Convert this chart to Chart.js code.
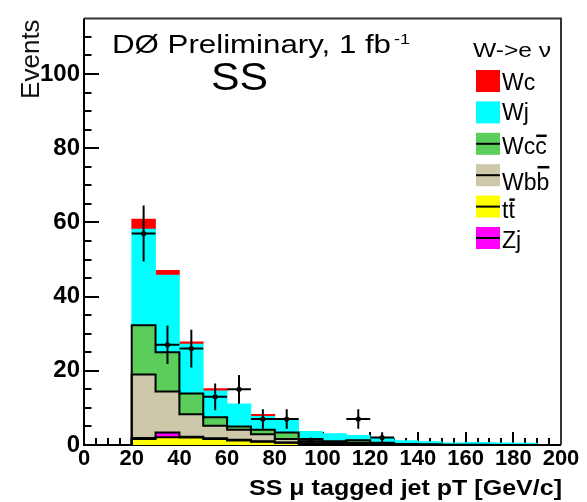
<!DOCTYPE html>
<html>
<head>
<meta charset="utf-8">
<title>SS mu tagged jet pT</title>
<script src="https://cdn.jsdelivr.net/npm/chart.js@4.4.1/dist/chart.umd.min.js"></script>
<style>
  html, body { margin: 0; padding: 0; background: #ffffff; }
  #box { position: relative; width: 587px; height: 502px; }
</style>
</head>
<body>
<div id="box"><canvas id="chart" width="587" height="502"></canvas></div>
<script>
// Lower edges of the 10 GeV/c bins
const binLow = [20, 30, 40, 50, 60, 70, 80, 90, 100, 110, 120, 130, 140, 150, 160, 170, 180, 190];
const binWidth = 10;

// Expected events per bin, one array per process (stacked bottom to top)
const ttbar  = [1.6, 2.1, 2.0, 1.6, 1.2, 0.9, 0.6, 0.3, 0.2, 0.2, 0.1, 0, 0, 0, 0, 0, 0, 0];
const zjets  = [0.3, 1.3, 0.2, 0.2, 0.2, 0.1, 0.1, 0.1, 0.1, 0.1, 0.1, 0.1, 0, 0, 0, 0, 0, 0];
const wbbbar = [17.1, 11.0, 6.1, 3.4, 2.7, 1.9, 0.9, 0.5, 0.3, 0.3, 0.2, 0.1, 0, 0, 0, 0, 0, 0];
const wccbar = [13.3, 10.6, 5.6, 2.3, 0.9, 1.2, 1.8, 0.7, 0.4, 0.7, 0.2, 0.1, 0.2, 0.1, 0.1, 0, 0, 0];
const wjets  = [25.9, 20.8, 13.3, 7.1, 6.1, 3.6, 3.4, 2.1, 2.1, 1.3, 1.3, 0.9, 0.7, 0.5, 0.6, 0.6, 0.5, 0];
const wcharm = [2.7, 1.3, 0.6, 0.6, 0, 0.6, 0, 0, 0, 0, 0, 0, 0, 0, 0, 0, 0, 0];

// Observed events (bin centres)
const dataPt     = [25, 35, 45, 55, 65, 75, 85, 95, 115, 125];
const dataEvents = [57, 27, 26, 13, 15, 7, 7, 1, 7, 2];

// Axis ticks
const xTickValues = [0, 20, 40, 60, 80, 100, 120, 140, 160, 180, 200];
const yTickValues = [0, 20, 40, 60, 80, 100];

// Legend rows, top to bottom
const legendOrder = ['Wc', 'Wj', 'Wcc', 'Wbb', 'tt', 'Zj'];

const FONT = "'Liberation Sans', Arial, Helvetica, sans-serif";

const processes = [
  { name: 'tt',  values: ttbar,  color: '#ffff00', outline: true,  overline: 1, rise: 18, dy: 0 },
  { name: 'Zj',  values: zjets,  color: '#ff00ff', outline: true,  overline: 0, rise: 0,  dy: -1 },
  { name: 'Wbb', values: wbbbar, color: '#cdc8aa', outline: true,  overline: 1, rise: 23, dy: 4 },
  { name: 'Wcc', values: wccbar, color: '#5acd5a', outline: true,  overline: 1, rise: 18, dy: -1 },
  { name: 'Wj',  values: wjets,  color: '#00ffff', outline: false, overline: 0, rise: 0,  dy: -3 },
  { name: 'Wc',  values: wcharm, color: '#ff0000', outline: false, overline: 0, rise: 0,  dy: -2 }
];

// Stacked fills as floating bars, outlines as step lines on the running sums
const barSets = [];
const outlineSets = [];
let base = binLow.map(() => 0);
processes.forEach(p => {
  const top = base.map((b, i) => b + p.values[i]);
  barSets.push({
    type: 'bar',
    label: p.name,
    data: binLow.map((lo, i) => ({ x: lo + binWidth / 2, y: p.values[i] > 0 ? [base[i], top[i]] : null })),
    backgroundColor: p.color,
    borderWidth: 0,
    grouped: false,
    barPercentage: 1,
    categoryPercentage: 1,
    order: 10
  });
  if (p.outline) {
    const pts = [{ x: binLow[0], y: 0 }];
    binLow.forEach((lo, i) => pts.push({ x: lo, y: top[i] }));
    pts.push({ x: binLow[binLow.length - 1] + binWidth, y: 0 });
    outlineSets.push({
      type: 'line',
      data: pts,
      stepped: 'before',
      borderColor: '#000000',
      borderWidth: 2,
      pointRadius: 0,
      fill: false,
      order: 5
    });
  }
  base = top;
});

// Data crosses: vertical sqrt(N) error plus full-bin horizontal bar
const crossPts = [];
dataPt.forEach((x, i) => {
  const n = dataEvents[i];
  const e = Math.sqrt(n);
  crossPts.push({ x: x, y: n - e }, { x: x, y: n + e }, { x: x, y: null });
  crossPts.push({ x: x - binWidth / 2, y: n }, { x: x + binWidth / 2, y: n }, { x: x, y: null });
});
const crossSet = {
  type: 'line',
  data: crossPts,
  borderColor: '#000000',
  borderWidth: 2,
  pointRadius: 0,
  spanGaps: false,
  fill: false,
  order: 2
};
const dotSet = {
  type: 'line',
  data: dataPt.map((x, i) => ({ x: x, y: dataEvents[i] })),
  showLine: false,
  pointRadius: 2.6,
  pointBackgroundColor: '#000000',
  pointBorderWidth: 0,
  order: 1
};

// Draw text stretched horizontally so that it covers a given width
function fitText(ctx, str, x, y, font, width, align) {
  ctx.save();
  ctx.font = font;
  ctx.textBaseline = 'alphabetic';
  ctx.textAlign = align || 'left';
  const sx = width / ctx.measureText(str).width;
  ctx.translate(x, y);
  ctx.scale(sx, 1);
  ctx.fillText(str, 0, 0);
  ctx.restore();
}

const frameAndLabels = {
  id: 'frameAndLabels',
  beforeDatasetsDraw(chart) {
    const { ctx, chartArea: a, scales: { x, y } } = chart;
    ctx.save();
    ctx.lineCap = 'butt';
    // inward ticks
    ctx.strokeStyle = '#000';
    ctx.lineWidth = 2;
    for (let v = 0; v <= 110; v += 5) {
      const py = Math.round(y.getPixelForValue(v));
      const len = v % 20 === 0 ? 15 : 7.5;
      ctx.beginPath(); ctx.moveTo(a.left, py); ctx.lineTo(a.left + len, py); ctx.stroke();
    }
    for (let v = 0; v <= 200; v += 5) {
      const px = Math.round(x.getPixelForValue(v));
      const len = v % 20 === 0 ? 13 : 7;
      ctx.beginPath(); ctx.moveTo(px, a.bottom); ctx.lineTo(px, a.bottom - len); ctx.stroke();
    }
    // frame
    ctx.strokeStyle = '#333';
    ctx.lineWidth = 2;
    ctx.beginPath(); ctx.moveTo(a.left, a.top); ctx.lineTo(a.right, a.top); ctx.lineTo(a.right, a.bottom); ctx.stroke();
    ctx.strokeStyle = '#000';
    ctx.beginPath(); ctx.moveTo(a.left, a.top); ctx.lineTo(a.left, a.bottom); ctx.lineTo(a.right, a.bottom); ctx.stroke();
    ctx.restore();
  },
  afterDraw(chart) {
    const { ctx, chartArea: a } = chart;
    ctx.save();
    ctx.fillStyle = '#000';

    // axis titles
    ctx.save();
    ctx.font = '26px ' + FONT;
    ctx.fillStyle = '#111';
    ctx.textAlign = 'right';
    ctx.textBaseline = 'alphabetic';
    ctx.translate(39, a.top + 1);
    ctx.rotate(-Math.PI / 2);
    ctx.fillText('Events', 0, 0);
    ctx.restore();
    fitText(ctx, 'SS \u03bc tagged jet pT [GeV/c]', a.right + 1, 495, 'bold 22px ' + FONT, 313, 'right');

    // experiment label
    fitText(ctx, 'D\u00d8 Preliminary, 1 fb', 112, 53, '26px ' + FONT, 279, 'left');
    fitText(ctx, '-1', 394, 44, '15px ' + FONT, 16, 'left');
    fitText(ctx, 'SS', 211, 90, '38px ' + FONT, 57, 'left');

    // legend
    fitText(ctx, 'W->e \u03bd', 473, 57, '21px ' + FONT, 78, 'left');
    legendOrder.forEach((name, i) => {
      const p = processes.find(q => q.name === name);
      const top = 70 + i * 31.4;
      ctx.fillStyle = p.color;
      ctx.fillRect(476, top, 24, 22);
      if (p.outline) {
        ctx.strokeStyle = '#000';
        ctx.lineWidth = 2;
        ctx.beginPath(); ctx.moveTo(476, top + 11); ctx.lineTo(500, top + 11); ctx.stroke();
      }
      ctx.fillStyle = '#000';
      const font = '23px ' + FONT;
      const baseY = top + 22 + p.dy;
      ctx.font = font;
      ctx.textAlign = 'left';
      ctx.textBaseline = 'alphabetic';
      ctx.fillText(p.name, 502, baseY);
      if (p.overline > 0) {
        const full = ctx.measureText(p.name).width;
        const head = ctx.measureText(p.name.slice(0, p.name.length - p.overline)).width;
        ctx.strokeStyle = '#000';
        ctx.lineWidth = 2.5;
        ctx.beginPath();
        ctx.moveTo(502 + head + 1, baseY - p.rise);
        ctx.lineTo(502 + full, baseY - p.rise);
        ctx.stroke();
      }
    });
    ctx.restore();
  }
};

new Chart(document.getElementById('chart'), {
  type: 'bar',
  data: { datasets: [...barSets, ...outlineSets, crossSet, dotSet] },
  plugins: [frameAndLabels],
  options: {
    responsive: false,
    animation: false,
    events: [],
    layout: { padding: { top: 6, right: 26, left: 0, bottom: 0 } },
    plugins: { legend: { display: false }, tooltip: { enabled: false } },
    scales: {
      x: {
        type: 'linear',
        min: 0,
        max: 200,
        offset: false,
        afterBuildTicks: s => { s.ticks = xTickValues.map(v => ({ value: v })); },
        afterFit: s => { s.height = 57; },
        grid: { display: false, drawTicks: false },
        border: { display: false },
        ticks: {
          color: '#000',
          padding: 1,
          maxRotation: 0,
          autoSkip: false,
          font: { family: FONT, size: 22, weight: 'bold' }
        }
      },
      y: {
        type: 'linear',
        min: 0,
        max: 115,
        afterBuildTicks: s => { s.ticks = yTickValues.map(v => ({ value: v })); },
        afterFit: s => { s.width = 84; },
        grid: { display: false, drawTicks: false },
        border: { display: false },
        ticks: {
          color: '#000',
          padding: 4,
          font: { family: "'Liberation Sans Narrow', " + FONT, size: 24, weight: 'bold' }
        }
      }
    }
  }
});
</script>
</body>
</html>
